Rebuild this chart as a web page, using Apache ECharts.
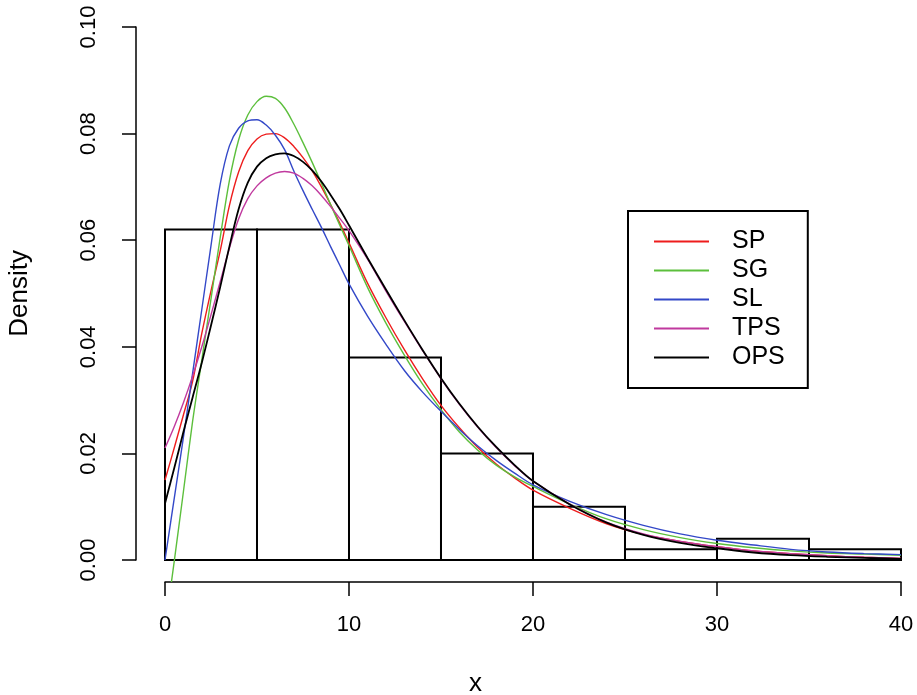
<!DOCTYPE html>
<html>
<head>
  <meta charset="utf-8">
  <title>Density</title>
  <script src="https://cdn.jsdelivr.net/npm/echarts@6/dist/echarts.min.js"></script>
</head>
<body style="margin: 0; width: 917px; height: 695px; background: #fff;">
  <div id="container" style="width: 917px; height: 695px;"></div>
  <script type="text/javascript">
    // histogram bins
    var binEdges = [0, 5, 10, 15, 20, 25, 30, 35, 40];
    var binDensity = [0.062, 0.062, 0.038, 0.020, 0.010, 0.002, 0.004, 0.002];

    // curve x positions, shared by all fitted densities
    var xs = [0, 0.5, 1, 1.5, 2, 2.5, 3, 3.5, 4, 4.5, 5, 5.5, 6, 6.5, 7, 7.5, 8, 8.5, 9, 9.5,
      10, 11, 12, 13, 14, 15, 16, 17, 18, 19, 20, 22, 24, 26, 28, 30, 32, 34, 36, 38, 40];

    var sp = [0.0150, 0.0210, 0.0272, 0.0335, 0.0425, 0.0505, 0.0580, 0.0665, 0.0728, 0.0768,
      0.0790, 0.0799, 0.0800, 0.0792, 0.0776, 0.0755, 0.0730, 0.0700, 0.0667, 0.0632,
      0.0595, 0.0520, 0.0455, 0.0395, 0.0340, 0.0290, 0.0248, 0.0211, 0.0180, 0.0154,
      0.0131, 0.0097, 0.0068, 0.0048, 0.0035, 0.0025, 0.0017, 0.0012, 0.0008, 0.0005, 0.0003];
    var sg = [-0.0130, -0.0003, 0.0128, 0.0260, 0.0375, 0.0490, 0.0605, 0.0712, 0.0788, 0.0835,
      0.0860, 0.0870, 0.0866, 0.0848, 0.0818, 0.0783, 0.0746, 0.0707, 0.0667, 0.0628,
      0.0590, 0.0512, 0.0445, 0.0385, 0.0330, 0.0282, 0.0240, 0.0206, 0.0178, 0.0156,
      0.0138, 0.0105, 0.0077, 0.0057, 0.0042, 0.0031, 0.0023, 0.0017, 0.0013, 0.0011, 0.0009];
    var sl = [0.0000, 0.0115, 0.0230, 0.0350, 0.0470, 0.0590, 0.0705, 0.0777, 0.0810, 0.0824,
      0.0826, 0.0816, 0.0797, 0.0770, 0.0730, 0.0693, 0.0658, 0.0624, 0.0588, 0.0553,
      0.0518, 0.0458, 0.0405, 0.0356, 0.0315, 0.0279, 0.0245, 0.0214, 0.0187, 0.0163,
      0.0141, 0.0110, 0.0085, 0.0065, 0.0049, 0.0037, 0.0028, 0.0020, 0.0015, 0.0012, 0.0010];
    var tps = [0.0210, 0.0250, 0.0295, 0.0345, 0.0400, 0.0460, 0.0522, 0.0585, 0.0640, 0.0678,
      0.0702, 0.0717, 0.0726, 0.0729, 0.0726, 0.0716, 0.0702, 0.0684, 0.0663, 0.0641,
      0.0618, 0.0565, 0.0505, 0.0448, 0.0393, 0.0340, 0.0292, 0.0249, 0.0211, 0.0177,
      0.0148, 0.0105, 0.0071, 0.0049, 0.0035, 0.0025, 0.0017, 0.0012, 0.0008, 0.0005, 0.0003];
    var ops = [0.0106, 0.0172, 0.0240, 0.0305, 0.0370, 0.0440, 0.0512, 0.0588, 0.0658, 0.0708,
      0.0738, 0.0754, 0.0761, 0.0763, 0.0758, 0.0747, 0.0731, 0.0710, 0.0685, 0.0658,
      0.0628, 0.0567, 0.0508, 0.0450, 0.0394, 0.0341, 0.0293, 0.0250, 0.0212, 0.0178,
      0.0148, 0.0104, 0.0070, 0.0047, 0.0032, 0.0022, 0.0014, 0.0009, 0.0006, 0.0004, 0.0002];

    var curveNames = ['SP', 'SG', 'SL', 'TPS', 'OPS'];
    var curveColors = ['#ee1c1c', '#5cbf3c', '#3348c8', '#c0399e', '#000000'];
    var curveWidths = [1.4, 1.4, 1.4, 1.4, 1.8];
    var curveValues = [sp, sg, sl, tps, ops];

    var FONT = 'Liberation Sans, Arial, sans-serif';

    var dom = document.getElementById('container');
    var myChart = echarts.init(dom, null, { renderer: 'canvas' });

    var bins = binDensity.map(function (d, i) {
      return [binEdges[i], binEdges[i + 1], d];
    });

    var curveSeries = curveNames.map(function (name, k) {
      return {
        name: name,
        type: 'line',
        xAxisIndex: 0,
        yAxisIndex: 0,
        data: xs.map(function (x, i) { return [x, curveValues[k][i]]; }),
        showSymbol: false,
        symbol: 'none',
        smooth: 0.35,
        clip: true,
        silent: true,
        animation: false,
        z: 3,
        lineStyle: { color: curveColors[k], width: curveWidths[k] },
        itemStyle: { color: curveColors[k] }
      };
    });

    var option = {
      backgroundColor: '#fff',
      animation: false,
      textStyle: { fontFamily: FONT },
      grid: [
        // plotting region (R usr region, extends 4% beyond data range)
        { left: 136, right: 0, top: 5.7, bottom: 113.7 },
        // region used for drawing the axes
        { left: 165, right: 16, top: 27, bottom: 135 }
      ],
      xAxis: [
        { type: 'value', gridIndex: 0, min: -1.576, max: 40.87, show: false },
        {
          type: 'value', gridIndex: 1, min: 0, max: 40, interval: 10,
          position: 'bottom', offset: 22,
          axisLine: { show: true, onZero: false, lineStyle: { color: '#000', width: 1.5 } },
          axisTick: { show: true, length: 14, lineStyle: { color: '#000', width: 1.5 } },
          axisLabel: { fontSize: 22, color: '#000', margin: 32, fontFamily: FONT },
          splitLine: { show: false }
        }
      ],
      yAxis: [
        { type: 'value', gridIndex: 0, min: -0.004, max: 0.104, show: false },
        {
          type: 'value', gridIndex: 1, min: 0, max: 0.1, interval: 0.02,
          position: 'left', offset: 29,
          axisLine: { show: true, onZero: false, lineStyle: { color: '#000', width: 1.5 } },
          axisTick: { show: true, length: 14, lineStyle: { color: '#000', width: 1.5 } },
          axisLabel: {
            fontSize: 22, color: '#000', margin: 36, rotate: 90, fontFamily: FONT,
            formatter: function (v) { return v.toFixed(2); }
          },
          splitLine: { show: false }
        }
      ],
      legend: {
        orient: 'vertical',
        left: 628,
        top: 211,
        data: curveNames,
        selectedMode: false,
        itemWidth: 55,
        itemHeight: 25,
        itemGap: 4,
        padding: [18, 23, 18, 25],
        borderColor: '#000',
        borderWidth: 2,
        borderRadius: 0,
        backgroundColor: '#fff',
        itemStyle: { color: 'rgba(0,0,0,0)', borderWidth: 0, opacity: 0 },
        textStyle: { fontSize: 25, color: '#000', fontFamily: FONT, padding: [0, 0, 0, 18], lineHeight: 25 }
      },
      graphic: [
        {
          type: 'text', left: 7, top: 250, rotation: Math.PI / 2,
          style: { text: 'Density', font: '26px ' + FONT, fill: '#000' }
        },
        {
          type: 'text', left: 469, top: 671,
          style: { text: 'x', font: '26px ' + FONT, fill: '#000' }
        }
      ],
      series: [
        {
          name: 'hist',
          type: 'custom',
          xAxisIndex: 0,
          yAxisIndex: 0,
          silent: true,
          z: 2,
          data: bins,
          encode: { x: [0, 1], y: 2 },
          renderItem: function (params, api) {
            var p0 = api.coord([api.value(0), api.value(2)]);
            var p1 = api.coord([api.value(1), 0]);
            return {
              type: 'rect',
              shape: { x: p0[0], y: p0[1], width: p1[0] - p0[0], height: p1[1] - p0[1] },
              style: { fill: 'none', stroke: '#000', lineWidth: 2 }
            };
          }
        }
      ].concat(curveSeries)
    };

    myChart.setOption(option);
    window.addEventListener('resize', myChart.resize);
  </script>
</body>
</html>
